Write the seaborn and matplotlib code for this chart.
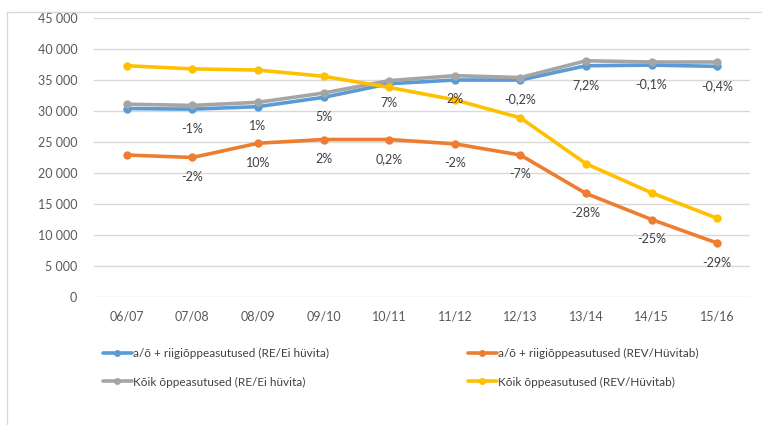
import matplotlib
matplotlib.use("Agg")
import matplotlib.pyplot as plt
from matplotlib.lines import Line2D
import seaborn as sns
import pandas as pd

years = ["06/07", "07/08", "08/09", "09/10", "10/11", "11/12", "12/13", "13/14", "14/15", "15/16"]
blue_vals = [30400, 30300, 30700, 32200, 34400, 35000, 35000, 37300, 37400, 37200]
orange_vals = [22900, 22500, 24800, 25400, 25400, 24700, 22900, 16700, 12500, 8700]
gray_vals = [31100, 30900, 31400, 32900, 34900, 35700, 35400, 38100, 37900, 37900]
yellow_vals = [37300, 36800, 36600, 35600, 33800, 31800, 28900, 21500, 16800, 12700]
blue_pct = ["", "-1%", "1%", "5%", "7%", "2%", "-0,2%", "7,2%", "-0,1%", "-0,4%"]
orange_pct = ["", "-2%", "10%", "2%", "0,2%", "-2%", "-7%", "-28%", "-25%", "-29%"]
names = ["a/õ + riigiõppeasutused (RE/Ei hüvita)",
         "a/õ + riigiõppeasutused (REV/Hüvitab)",
         "Kõik õppeasutused (RE/Ei hüvita)",
         "Kõik õppeasutused (REV/Hüvitab)"]
colors = ["#5B9BD5", "#ED7D31", "#A5A5A5", "#FFC000"]
yticks = [0, 5000, 10000, 15000, 20000, 25000, 30000, 35000, 40000, 45000]

sns.set_style("white")
plt.rcParams['font.family'] = ['Lato', 'DejaVu Sans']

rows = []
for name, vals in zip(names, [blue_vals, orange_vals, gray_vals, yellow_vals]):
    for i, v in enumerate(vals):
        rows.append({"idx": i, "val": v, "series": name})
df = pd.DataFrame(rows)

fig = plt.figure(figsize=(7.62, 4.25), dpi=100)
ax = fig.add_axes([94/762, 1-297/425, (750-94)/762, (297-18)/425])

sns.lineplot(data=df, x="idx", y="val", hue="series", hue_order=names,
             palette=colors, marker="o", markersize=6, markeredgewidth=0,
             linewidth=2.6, ax=ax, legend=False, sort=False)

ax.set_xlim(-0.5, len(years) - 0.5)
ax.set_ylim(0, 45000)
ax.set_yticks(yticks)
ax.set_yticklabels([f"{t:,}".replace(",", " ") for t in yticks])
ax.set_xticks(range(len(years)))
ax.set_xticklabels(years)
ax.tick_params(axis="both", length=0, labelsize=9, colors="#595959")
ax.tick_params(axis="y", pad=12)
ax.tick_params(axis="x", pad=10)
ax.grid(axis="y", color="#D9D9D9", linewidth=1)
ax.set_axisbelow(True)
for s in ax.spines.values():
    s.set_visible(False)
ax.set_xlabel("")
ax.set_ylabel("")

for i, (lab, v) in enumerate(zip(blue_pct, blue_vals)):
    if lab:
        ax.annotate(lab, (i, v), xytext=(0, -14), textcoords="offset points",
                    ha="center", va="center", fontsize=9, color="#404040")
for i, (lab, v) in enumerate(zip(orange_pct, orange_vals)):
    if lab:
        ax.annotate(lab, (i, v), xytext=(0, -14), textcoords="offset points",
                    ha="center", va="center", fontsize=9, color="#404040")

def handle(c):
    return Line2D([0], [0], color=c, lw=2.6, marker="o", markersize=5, markeredgewidth=0)

leg1 = fig.legend([handle(colors[0]), handle(colors[2])], [names[0], names[2]],
                  loc="center left", bbox_to_anchor=(92/762, 1-368/425),
                  frameon=False, fontsize=8.5, handlelength=2.5, handletextpad=0.1,
                  labelspacing=1.45, labelcolor="#404040")
leg2 = fig.legend([handle(colors[1]), handle(colors[3])], [names[1], names[3]],
                  loc="center left", bbox_to_anchor=(457/762, 1-368/425),
                  frameon=False, fontsize=8.5, handlelength=2.5, handletextpad=0.1,
                  labelspacing=1.45, labelcolor="#404040")

fig.add_artist(Line2D([7/762, 7/762], [0, 1-12/425], transform=fig.transFigure,
                      color="#D9D9D9", lw=1))
fig.add_artist(Line2D([7/762, 1], [1-12/425, 1-12/425], transform=fig.transFigure,
                      color="#D9D9D9", lw=1))

fig.savefig("out.png", dpi=100)
